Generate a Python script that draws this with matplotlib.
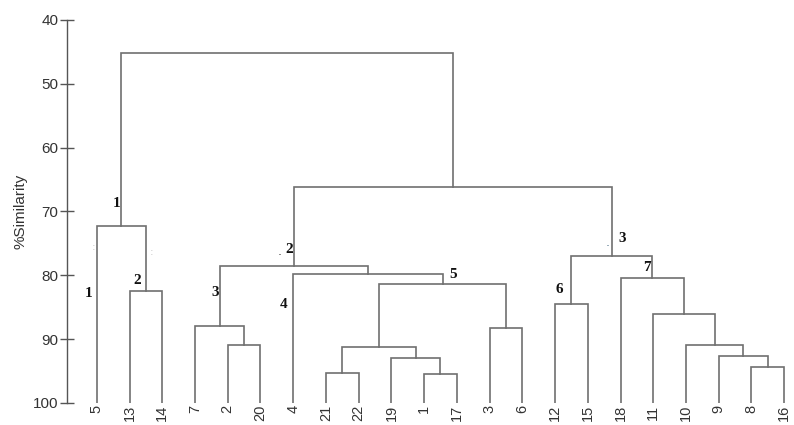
import matplotlib
matplotlib.use('Agg')
import matplotlib.pyplot as plt
import numpy as np

# leaf order along the x axis
leaves = ['5', '13', '14', '7', '2', '20', '4', '21', '22', '19', '1', '17',
          '3', '6', '12', '15', '18', '11', '10', '9', '8', '16']

# merges, linkage style: ids 0..21 are leaves (in order above),
# merge k gets id 22+k
merge_a = [1, 0, 4, 3, 7, 10, 9, 26, 12, 29, 6, 25, 14, 20, 19, 18, 17, 16, 34, 33, 23]
merge_b = [2, 22, 5, 24, 8, 11, 27, 28, 13, 30, 31, 32, 15, 21, 35, 36, 37, 38, 39, 40, 41]
merge_sim = [82.4, 72.3, 91.0, 87.9, 95.3, 95.5, 93.0, 91.2, 88.3, 81.4, 79.8, 78.5,
             84.5, 94.3, 92.6, 90.9, 86.1, 80.4, 77.0, 66.1, 45.1]

# cluster numbers written on the figure (text, x in leaf units, y in %similarity)
note_text = ['1', '1', '2', '2', '3', '4', '5', '6', '3', '7']
note_x = [0.62, -0.26, 1.23, 5.87, 3.63, 5.70, 10.9, 14.13, 16.05, 16.81]
note_y = [68.7, 82.8, 80.8, 75.9, 82.7, 84.65, 79.95, 82.3, 74.3, 78.75]

yticks = [40, 50, 60, 70, 80, 90, 100]

line_col = '#707070'
fig = plt.figure(figsize=(7.94, 4.25), dpi=100)
ax = fig.add_axes([0.084, 0.052, 0.916, 0.901])

n = len(leaves)
xpos = {i: float(i) for i in range(n)}
ypos = {i: 100.0 for i in range(n)}
for k, (a, b, h) in enumerate(zip(merge_a, merge_b, merge_sim)):
    xa, xb = xpos[a], xpos[b]
    ax.plot([xa, xa, xb, xb], [ypos[a], h, h, ypos[b]], color=line_col, lw=1.2,
            solid_joinstyle='miter')
    xpos[n + k] = (xa + xb) / 2
    ypos[n + k] = h

for t, x, y in zip(note_text, note_x, note_y):
    ax.text(x, y, t, ha='center', va='center', fontsize=11, fontweight='bold',
            family='Liberation Serif', color='#111111')

# faint scan marks
ax.text(5.6, 76.3, '.', ha='center', va='center', fontsize=9, color='#444444')
ax.text(15.6, 74.8, '.', ha='center', va='center', fontsize=9, color='#5a7a90')
ax.text(-0.11, 75.5, ':', ha='center', va='center', fontsize=8, color='#c8c8c8')
ax.text(1.66, 76.3, ':', ha='center', va='center', fontsize=8, color='#c8c8c8')

ax.set_xlim(-0.92, 21.3)
ax.set_ylim(100, 40)
ax.set_yticks(yticks)
ax.set_xticks(range(n))
ax.set_xticklabels(leaves, rotation=90, fontsize=10.5, family='Liberation Sans',
                   color='#333333')
ax.tick_params(axis='x', length=0, pad=1.5)
ax.tick_params(axis='y', direction='inout', length=10, width=1, color='#555555',
               labelsize=11, labelcolor='#333333', pad=1)
for lab in ax.get_yticklabels():
    lab.set_family('Liberation Sans')
for s in ['top', 'right', 'bottom']:
    ax.spines[s].set_visible(False)
ax.spines['left'].set_color('#555555')
ax.spines['left'].set_linewidth(1)
ax.set_ylabel('%Similarity', fontsize=11, family='Liberation Sans', color='#333333')
ax.yaxis.set_label_coords(-0.054, 0.5)

fig.savefig('out.png', dpi=100)
